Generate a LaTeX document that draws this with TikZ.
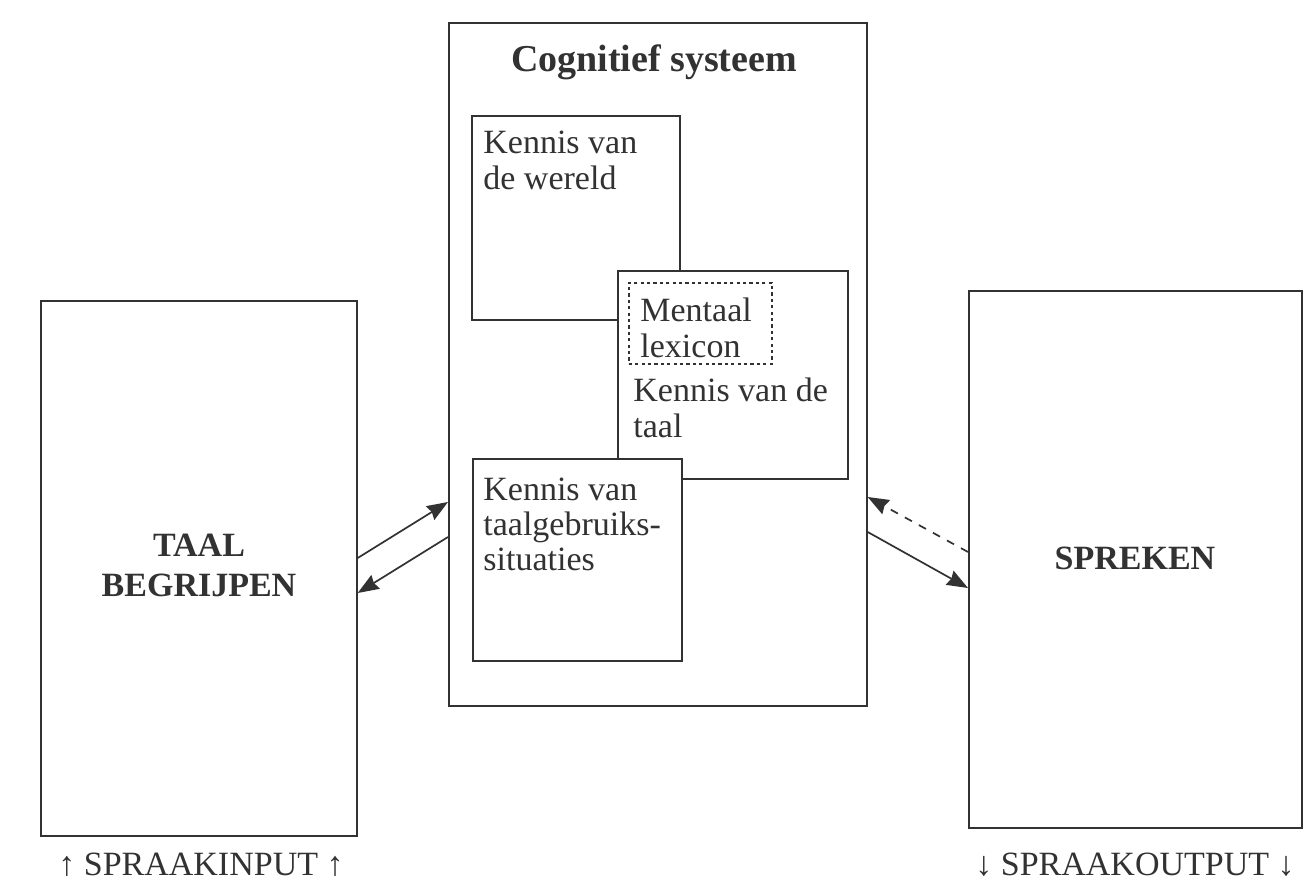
\documentclass[tikz,border=0pt]{standalone}
\usepackage{fontspec}
\setmainfont{Liberation Serif}
\usetikzlibrary{arrows.meta,calc}
\definecolor{ink}{RGB}{50,50,50}
\tikzset{
  box/.style={draw=ink, line width=0.85pt, fill=white, inner sep=0pt, anchor=north west},
  dotbox/.style={draw=ink, line width=0.8pt, dash pattern=on 1.6pt off 1.6pt, inner sep=0pt, anchor=north west},
  txt/.style={text=ink, inner sep=0pt, font=\fontsize{17}{18}\selectfont, align=left, anchor=north west},
  bold/.style={text=ink, inner sep=0pt, font=\fontsize{17}{20}\selectfont\bfseries, align=center},
  lab/.style={text=ink, inner sep=0pt, font=\fontsize{17}{20}\selectfont, anchor=base},
  conn/.style={draw=ink, line width=0.85pt, -{Stealth[length=10.5pt,width=8pt,inset=1pt]}},
  dconn/.style={conn, dash pattern=on 4pt off 4pt}
}
\begin{document}
\begin{tikzpicture}[x=0.5pt,y=-0.5pt]
\useasboundingbox[fill=white] (0,0) rectangle (1308,887);
% outer boxes
\node[box, minimum width=158pt, minimum height=267.5pt] (left) at (40,300) {};
\node[box, minimum width=166.5pt, minimum height=268.5pt] (right) at (968,290) {};
\node[box, minimum width=209pt, minimum height=341.5pt] (cog) at (448,22) {};
% inner boxes
\node[box, minimum width=104pt, minimum height=102pt] (wereld) at (471,115) {};
\node[box, minimum width=115pt, minimum height=104pt] (taal) at (617,270) {};
\node[dotbox, minimum width=71.5pt, minimum height=40.5pt] (lexicon) at (628,282) {};
\node[box, minimum width=104.5pt, minimum height=101pt] (situaties) at (472,458) {};
% texts
\node[bold, anchor=base, font=\fontsize{19}{22}\selectfont\bfseries] (cogt) at (654,72) {Cognitief systeem};
\node[txt] (wereldt) at (483,131) {Kennis van\\de wereld};
\node[txt] (lexicont) at (640,298) {Mentaal\\lexicon};
\node[txt] (taalt) at (633,378) {Kennis van de\\taal};
\node[txt, font=\fontsize{17}{17.5}\selectfont] (situatiest) at (483,478) {Kennis van\\taalgebruiks-\\situaties};
\node[bold, anchor=north] (leftt) at (199,534) {TAAL\\BEGRIJPEN};
\node[bold, anchor=base] (rightt) at (1135,570) {SPREKEN};
\node[lab] (input) at (201,875) {↑ SPRAAKINPUT ↑};
\node[lab] (output) at (1135,875) {↓ SPRAAKOUTPUT ↓};
% connector end points
\coordinate (l1) at (left.east |- 0,558);
\coordinate (c1) at (cog.west |- 0,502);
\coordinate (c2) at (cog.west |- 0,537);
\coordinate (l2) at (left.east |- 0,593);
\coordinate (r1) at (right.west |- 0,552);
\coordinate (c3) at (cog.east |- 0,497);
\coordinate (c4) at (cog.east |- 0,532);
\coordinate (r2) at (right.west |- 0,588);
\draw[conn] (l1) -- (c1);
\draw[conn] (c2) -- (l2);
\draw[dconn] (r1) -- (c3);
\draw[conn] (c4) -- (r2);
\end{tikzpicture}
\end{document}
